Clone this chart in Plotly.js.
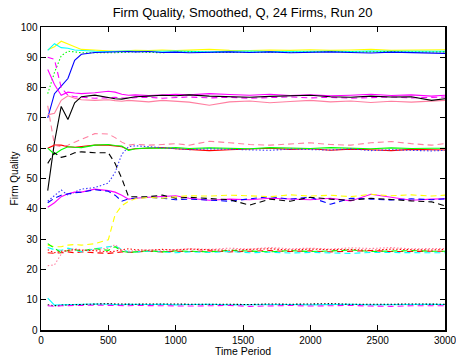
<!DOCTYPE html>
<html>
<head>
<meta charset="utf-8">
<script src="https://cdn.plot.ly/plotly-3.0.1.min.js"></script>
<style>html,body{margin:0;padding:0;background:#fff;}#chart{width:456px;height:358px;}</style>
</head>
<body>
<div id="chart"></div>
<script>
// Time periods sampled
const timePeriods = [50,100,150,200,250,300,400,500,550,600,650,700,800,900,1000,1100,1250,1400,1550,1700,1850,2000,2150,2300,2450,2600,2750,2900,3000];

// Firm quality series (24 firms)
const firm01 = [92.5,93.5,95.3,94.3,93.5,92.6,92.3,92.0,92.0,92.1,92.2,92.3,92.2,92.4,92.2,92.3,92.6,92.3,92.2,92.4,92.3,92.5,92.3,92.4,92.6,92.3,92.4,92.6,92.5];
const firm02 = [92.3,94.5,93.2,93.0,92.4,92.2,92.0,91.9,92.0,92.0,92.1,92.0,91.9,92.0,92.1,92.0,91.8,92.0,92.1,91.9,92.0,92.1,92.0,91.9,92.1,92.0,92.1,92.0,92.0];
const firm03 = [78,85,90.5,92,91.8,91.5,91.5,91.4,91.5,91.6,91.7,91.8,91.6,91.5,91.7,91.8,91.6,91.7,91.8,91.7,91.6,91.8,91.9,91.7,91.8,91.9,91.7,91.8,91.8];
const firm04 = [70,78,80.5,83,89,91,91.6,91.8,91.9,92.0,91.9,91.8,91.9,91.6,91.7,91.5,91.7,91.8,91.6,91.8,91.5,91.7,91.8,91.6,91.4,91.7,91.5,91.3,91.3];
const firm05 = [86,81,77.5,78.5,78.2,78.0,78.3,78.8,78.5,77.8,77.5,77.6,77.4,77.5,77.8,77.6,78.0,77.7,77.5,77.8,77.4,77.6,77.3,77.5,77.8,77.4,77.6,77.2,77.5];
const firm06 = [90,89.3,80,77.5,77,76.8,76.5,76.6,76.8,76.6,76.5,76.7,76.8,76.5,76.6,76.9,76.6,76.8,76.5,76.7,76.9,76.6,76.8,76.5,76.7,76.9,76.6,76.8,76.9];
const firm07 = [71,71.5,75.8,77.3,76.5,76.0,75.8,76.0,75.7,75.5,75.8,75.6,75.3,75.8,75.6,75.2,74.2,75.3,75.6,75.0,75.4,75.8,75.3,75.6,75.1,75.5,75.2,75.7,75.8];
const firm08 = [46,62,73.8,69.5,75,77,77.5,76.7,76.3,76.2,76.5,77.0,77.2,77.5,77.3,77.6,77.2,77.0,76.8,77.1,77.3,77.5,77.0,76.8,77.2,76.9,77.0,75.8,76.3];
const firm09 = [60,61,61,60.5,60.3,60.5,61,61,60.8,60.5,59.5,59.8,60,60.2,59.8,59.5,59.2,59.5,59.8,60.0,59.6,59.8,59.3,59.7,59.5,59.2,59.6,59.5,59.4];
const firm10 = [60,58,59.5,60.5,60.3,60.2,61,61.2,60.9,60.7,59.3,59.8,60.1,60.0,60.2,59.9,60.1,60.0,59.8,60.2,60.0,59.9,60.2,60.0,59.8,60.1,59.9,60.0,60.0];
const firm11 = [74,61,60.5,61,62,63,64.8,64.7,63.5,62,61,61.3,61,61.2,61.5,61.0,62.3,61.8,61.2,61.0,61.5,61.8,61.2,61.0,61.8,62.2,61.5,61.0,61.5];
const firm12 = [42.5,44.5,46.2,44.5,45.5,46.5,47,48.5,52,58,60.5,60.8,60.5,60.2,60.0,59.5,59.8,59.6,59.5,59.3,59.7,59.5,59.4,59.8,59.2,59.5,59.3,59.1,59.3];
const firm13 = [40.5,42,44,45,45.5,45.5,46.5,46,45.5,44.5,43.2,43.5,43.8,44.0,44.3,43.5,42.8,43.2,43.0,43.5,43.3,43.0,43.5,42.6,44.8,43.8,42.8,43.2,43.3];
const firm14 = [42,43.5,44.5,45,45.3,45.5,46.3,45.8,44.5,42.5,43.3,43.5,43.8,43.5,43.0,43.2,42.8,42.5,43.3,44.0,43.2,43.8,41.5,43.5,43.2,42.9,43.3,43.0,43.3];
const firm15 = [55,58.5,57,57.5,58.5,58.8,58.5,58.5,55,50,44,44,44,44.5,43.5,43.8,43.3,43.0,41.2,43.2,42.5,43.8,43.2,42.8,43.5,43.0,42.6,42.3,41.0];
const firm16 = [28,27.5,27.5,28,28.2,28,28.5,29.8,38,41,42.5,43.3,43.8,43.5,44.0,44.3,44.2,44.5,44.3,44.0,44.6,44.2,44.5,44.0,44.8,44.3,44.6,44.2,44.5];
const firm17 = [25.5,25.3,25.5,25.8,25.5,25.8,25.5,25.3,25.5,25.8,25.6,25.7,26.0,25.8,26.0,25.9,26.1,25.8,26.0,26.2,25.9,26.1,25.8,26.0,26.2,25.9,26.0,26.1,26.0];
const firm18 = [27.2,26.5,26.3,27.0,26.5,25.8,26.8,27.3,27.8,26.5,25.8,25.8,26.0,25.8,25.5,25.8,25.6,25.9,25.5,25.7,25.4,25.6,25.5,25.3,25.6,25.5,25.4,25.5,25.5];
const firm19 = [28.5,27,25.5,26.3,26.5,26.2,26.8,26.3,27.5,26.0,25.6,25.8,26.2,25.8,26.1,26.0,25.8,26.3,26.0,25.8,26.2,25.9,26.1,26.4,25.9,26.0,26.2,26.0,26.0];
const firm20 = [21.2,21.5,25,26.5,26.8,26.5,26.5,27,28.2,26.2,26.0,26.2,26.5,26.3,26.5,26.8,26.6,27.0,26.7,27.2,26.8,27.0,26.7,27.1,26.9,27.2,26.8,27.0,26.9];
const firm21 = [26.5,25.5,26,26.3,26.5,26.3,26.2,25.8,26.0,26.5,26.8,26.5,26.3,26.6,26.4,26.7,26.5,26.3,26.6,26.8,26.4,26.7,26.5,26.6,26.3,26.7,26.5,26.4,26.6];
const firm22 = [10.5,8.2,8.3,8.4,8.5,8.5,8.6,8.5,8.4,8.3,8.5,8.4,8.4,8.5,8.3,8.4,8.5,8.3,8.4,8.5,8.4,8.3,8.4,8.5,8.3,8.4,8.4,8.5,8.4];
const firm23 = [8.3,8.0,8.2,8.3,8.4,8.5,8.6,8.7,8.6,8.5,8.4,8.5,8.6,8.7,8.6,8.5,8.6,8.5,8.4,8.6,8.5,8.6,8.7,8.5,8.4,8.5,8.6,8.5,8.5];
const firm24 = [8.0,7.8,8.0,8.1,8.0,8.1,8.2,8.1,8.0,7.9,8.0,8.1,8.0,8.1,8.0,7.9,8.0,8.1,7.8,8.0,8.1,7.9,8.0,8.1,7.9,7.8,8.0,8.0,8.0];

const xTickVals = [0,500,1000,1500,2000,2500,3000];
const yTickVals = [0,10,20,30,40,50,60,70,80,90,100];

const firms = [firm01,firm02,firm03,firm04,firm05,firm06,firm07,firm08,firm09,firm10,firm11,firm12,
               firm13,firm14,firm15,firm16,firm17,firm18,firm19,firm20,firm21,firm22,firm23,firm24];
const colors = ['#ffff00','#00ffff','#00ff00','#0000ff','#ff00ff','#ff00ff','#ff7fa0','#000000',
                '#ff0000','#00ff00','#ff7fa0','#3a3aff','#ff00ff','#0000ff','#000000','#ffff00',
                '#ff0000','#00ffff','#00ff00','#ff7fa0','#ff0000','#00ffff','#000000','#ff00ff'];
const DASH = '6px,4px', DOT = '1.5px,2px';
const dashes = ['solid','solid',DOT,'solid','solid',DASH,'solid','solid',
                'solid','solid',DASH,DOT,'solid',DASH,DASH,DASH,
                DASH,DASH,DASH,DOT,DOT,'solid',DOT,DASH];

const traces = firms.map((f,i)=>({
  x: timePeriods, y: f, type:'scatter', mode:'lines',
  line:{color:colors[i], width:1.1, dash:dashes[i]},
  hoverinfo:'skip', showlegend:false
}));

const font = {family:'"Liberation Sans", Arial, sans-serif', color:'#000'};
const layout = {
  width:456, height:358,
  margin:{l:41, r:11, t:27, b:28},
  paper_bgcolor:'#fff', plot_bgcolor:'#fff',
  font: Object.assign({size:10}, font),
  title:{text:'Firm Quality, Smoothed, Q, 24 Firms, Run 20', font:Object.assign({size:13}, font),
         x:0.532, xref:'container', y:0.965, yref:'container', yanchor:'middle'},
  xaxis:{range:[0,3000], tickvals:xTickVals, ticks:'inside', ticklen:5, tickcolor:'#000',
         showline:true, linecolor:'#000', linewidth:1.5, mirror:'ticks', showgrid:false, zeroline:false,
         ticklabeloverflow:'allow',
         tickfont:Object.assign({size:10}, font),
         title:{text:'Time Period', font:Object.assign({size:10.5}, font), standoff:0}},
  yaxis:{range:[0,100], tickvals:yTickVals, ticks:'inside', ticklen:5, tickcolor:'#000',
         showline:true, linecolor:'#000', linewidth:1.5, mirror:'ticks', showgrid:false, zeroline:false,
         ticklabeloverflow:'allow',
         tickfont:Object.assign({size:10}, font),
         title:{text:'Firm Quality', font:Object.assign({size:10}, font), standoff:0}}
};
Plotly.newPlot('chart', traces, layout, {displayModeBar:false, staticPlot:true});
</script>
</body>
</html>
